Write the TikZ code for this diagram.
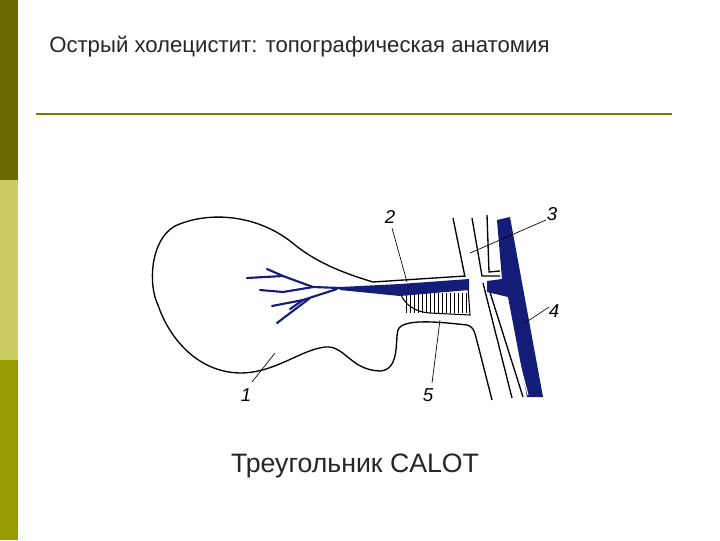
\documentclass[tikz,border=0pt]{standalone}
\usepackage{fontspec}
\setmainfont{Liberation Sans}
\begin{document}
\begin{tikzpicture}[x=0.75pt,y=-0.75pt,
  ln/.style={line width=1pt,black},
  bl/.style={draw=vein,line width=1.6pt,line cap=round},
  lead/.style={line width=0.5pt,black},
  lab/.style={font=\itshape\fontsize{14}{14}\selectfont}]
\definecolor{vein}{RGB}{20,30,120}
\definecolor{oliveA}{RGB}{107,107,0}
\definecolor{oliveB}{RGB}{204,204,102}
\definecolor{oliveC}{RGB}{153,153,0}
\useasboundingbox (0,0) rectangle (720,540);
\fill[oliveA] (0,0) rectangle (18,180);
\fill[oliveB] (0,180) rectangle (18,360);
\fill[oliveC] (0,360) rectangle (18,540);
\node[anchor=west,font=\fontsize{12.5}{14}\selectfont,text=black!85,scale=1.33] (title) at (43,47) {Острый холецистит: топографическая анатомия};
\draw[oliveC!80!black,line width=1.2pt] (36,114) -- (672,114);
% gallbladder
\draw[ln] (373,282) .. controls (350,275) and (320,265) .. (295,245)
  .. controls (260,215) and (210,210) .. (175,226)
  .. controls (150,240) and (148,285) .. (158,305)
  .. controls (168,335) and (195,372) .. (240,373)
  .. controls (275,373) and (300,350) .. (325,347)
  .. controls (345,345) and (350,370) .. (380,371)
  .. controls (400,370) and (395,340) .. (398,330)
  .. controls (402,318) and (440,322) .. (467,325)
  .. controls (475,327) and (475,335) .. (478,345) -- (492,400);
\draw[ln] (373,282) -- (465,276);
% hatched
\draw[line width=0.8pt] (400,293) .. controls (405,305) and (415,312) .. (430,313) -- (470,315) -- (468,287);
\foreach \x in {406,410,...,466} \draw[line width=0.6pt] (\x,293) -- (\x,313);
% blue duct
\fill[vein] (340,287) -- (400,284) -- (469,279) -- (469,290) -- (400,296) -- (340,290) -- cycle;
\draw[bl] (340,288) -- (313,287) -- (283,276) -- (247,278);
\draw[bl] (283,276) -- (267,269);
\draw[bl] (313,287) -- (283,292) -- (260,290);
\draw[bl] (337,289) -- (303,300) -- (272,306);
\draw[bl] (303,300) -- (290,309);
\draw[bl] (310,298) -- (277,323);
% ducts
\draw[ln] (453,218) -- (465,277);
\draw[ln] (472,218) -- (482,276) -- (500,276);
\draw[ln] (483,283) -- (512,398);
\draw[ln] (487,215) -- (489,272) -- (500,271);
\draw[ln] (488,286) -- (523,397);
% portal vein
\fill[vein] (497,220) -- (510,217) -- (543,397) -- (527,397) -- (508,297) -- (487,292) -- (487,281) -- (502,279) -- cycle;
\draw[white,line width=0.8pt] (503,300) -- (528,395);
% leaders and labels
\node[lab] (n2) at (390,217) {2};
\draw[lead] (392,228) -- (407,282);
\node[lab] (n3) at (552,214) {3};
\draw[lead] (546,220) -- (470,253);
\node[lab] (n4) at (554,311) {4};
\draw[lead] (549,307) -- (525,323);
\node[lab] (n5) at (428,395) {5};
\draw[lead] (432,383) -- (440,320);
\node[lab] (n1) at (246,395) {1};
\draw[lead] (252,382) -- (275,353);
\node[font=\fontsize{15.5}{18}\selectfont,text=black!85,scale=1.29] (cap) at (355,466) {Треугольник CALOT};
\end{tikzpicture}
\end{document}
